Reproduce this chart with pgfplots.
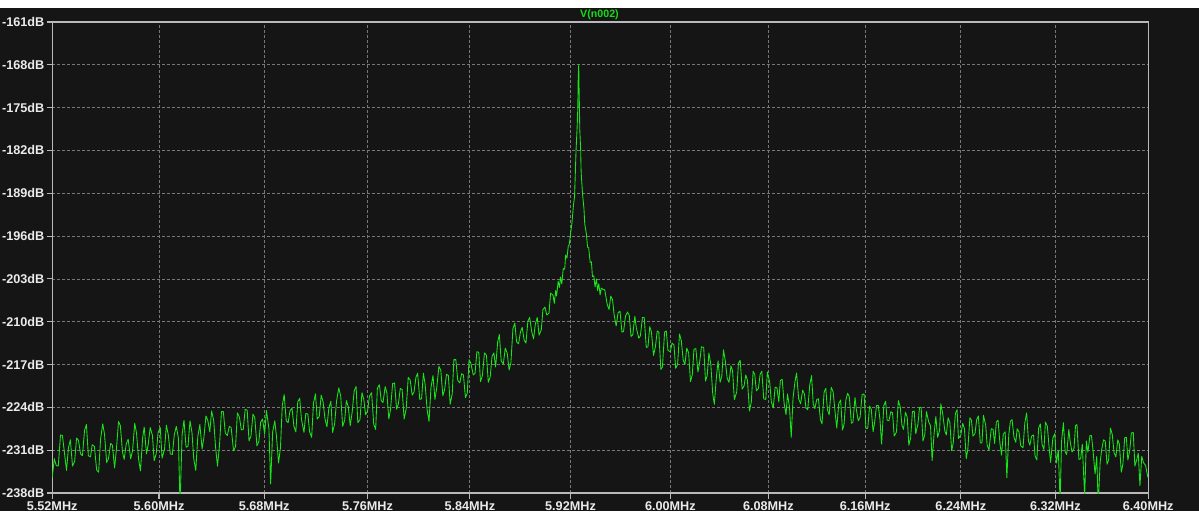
\documentclass[border=0pt]{standalone}
\usepackage{pgfplots}
\pgfplotsset{compat=1.18}
\usepackage{fontspec}
\setmainfont{Liberation Sans}
\definecolor{bg}{RGB}{21,21,21}
\definecolor{gridc}{RGB}{120,120,120}
\definecolor{framec}{RGB}{185,185,185}
\definecolor{labc}{RGB}{235,235,235}
\definecolor{trace}{RGB}{25,230,25}
\definecolor{titlec}{RGB}{20,220,20}
\pgfplotstableread[row sep=\\]{
x y\\
5.520 -235.5\\ 5.5215 -232.4\\ 5.523 -233.5\\ 5.5245 -233.6\\ 5.526 -228.5\\ 5.5275 -228.6\\ 5.529 -231.5\\ 5.5305 -234.3\\
5.532 -230.6\\ 5.5335 -229.3\\ 5.535 -233.6\\ 5.5365 -232.8\\ 5.538 -229.0\\ 5.5395 -229.4\\ 5.541 -231.6\\ 5.5425 -231.9\\
5.544 -227.8\\ 5.5455 -226.8\\ 5.547 -231.9\\ 5.5485 -232.1\\ 5.550 -230.1\\ 5.5515 -230.4\\ 5.553 -234.2\\ 5.5545 -234.6\\
5.556 -229.2\\ 5.5575 -226.7\\ 5.559 -228.4\\ 5.5605 -233.0\\ 5.562 -232.4\\ 5.5635 -229.9\\ 5.565 -230.2\\ 5.5665 -233.9\\
5.568 -231.1\\ 5.5695 -226.3\\ 5.571 -227.0\\ 5.5725 -231.3\\ 5.574 -232.5\\ 5.5755 -230.0\\ 5.577 -229.2\\ 5.5785 -232.4\\
5.580 -231.1\\ 5.5815 -226.6\\ 5.583 -228.2\\ 5.5845 -232.4\\ 5.586 -234.4\\ 5.5875 -229.0\\ 5.589 -227.2\\ 5.5905 -231.6\\
5.592 -230.1\\ 5.5935 -227.3\\ 5.595 -228.6\\ 5.5965 -232.7\\ 5.598 -231.6\\ 5.5995 -228.1\\ 5.601 -227.3\\ 5.6025 -232.3\\
5.604 -230.8\\ 5.6055 -226.9\\ 5.607 -228.5\\ 5.6085 -231.6\\ 5.610 -231.7\\ 5.6115 -228.5\\ 5.613 -227.1\\ 5.6145 -229.0\\
5.616 -240.0\\ 5.6175 -228.5\\ 5.619 -226.1\\ 5.6205 -230.5\\ 5.622 -230.4\\ 5.6235 -226.2\\ 5.625 -228.2\\ 5.6265 -232.4\\
5.628 -234.3\\ 5.6295 -228.8\\ 5.631 -226.8\\ 5.6325 -230.8\\ 5.634 -228.9\\ 5.6355 -225.4\\ 5.637 -226.1\\ 5.6385 -228.0\\
5.640 -224.6\\ 5.6415 -226.2\\ 5.643 -230.5\\ 5.6445 -233.6\\ 5.646 -230.2\\ 5.6475 -224.7\\ 5.649 -224.7\\ 5.6505 -228.2\\
5.652 -228.6\\ 5.6535 -227.1\\ 5.655 -227.3\\ 5.6565 -231.1\\ 5.658 -230.4\\ 5.6595 -224.9\\ 5.661 -225.6\\ 5.6625 -227.7\\
5.664 -227.6\\ 5.6655 -224.3\\ 5.667 -224.5\\ 5.6685 -229.5\\ 5.670 -228.7\\ 5.6715 -225.1\\ 5.673 -225.7\\ 5.6745 -230.3\\
5.676 -229.6\\ 5.6775 -226.4\\ 5.679 -225.9\\ 5.6805 -228.4\\ 5.682 -224.5\\ 5.6835 -227.5\\ 5.685 -236.5\\ 5.6865 -228.0\\
5.688 -226.2\\ 5.6895 -228.8\\ 5.691 -233.1\\ 5.6925 -230.6\\ 5.694 -223.7\\ 5.6955 -221.9\\ 5.697 -226.2\\ 5.6985 -226.5\\
5.700 -224.6\\ 5.7015 -224.1\\ 5.703 -227.1\\ 5.7045 -228.0\\ 5.706 -223.1\\ 5.7075 -222.5\\ 5.709 -226.0\\ 5.7105 -228.1\\
5.712 -225.0\\ 5.7135 -225.1\\ 5.715 -228.0\\ 5.7165 -228.9\\ 5.718 -223.3\\ 5.7195 -221.8\\ 5.721 -225.9\\ 5.7225 -225.5\\
5.724 -222.0\\ 5.7255 -223.1\\ 5.727 -225.9\\ 5.7285 -227.2\\ 5.730 -224.1\\ 5.7315 -223.0\\ 5.733 -228.1\\ 5.7345 -226.7\\
5.736 -223.0\\ 5.7375 -220.8\\ 5.739 -222.2\\ 5.7405 -227.1\\ 5.742 -226.1\\ 5.7435 -222.9\\ 5.745 -223.9\\ 5.7465 -227.0\\
5.748 -224.8\\ 5.7495 -221.3\\ 5.751 -220.6\\ 5.7525 -226.5\\ 5.754 -226.0\\ 5.7555 -221.6\\ 5.757 -222.7\\ 5.7585 -225.2\\
5.760 -224.6\\ 5.7615 -222.2\\ 5.763 -221.6\\ 5.7645 -226.8\\ 5.766 -227.6\\ 5.7675 -220.9\\ 5.769 -220.3\\ 5.7705 -222.9\\
5.772 -223.2\\ 5.7735 -220.6\\ 5.775 -221.6\\ 5.7765 -225.9\\ 5.778 -224.4\\ 5.7795 -220.1\\ 5.781 -220.0\\ 5.7825 -224.3\\
5.784 -223.4\\ 5.7855 -220.9\\ 5.787 -221.1\\ 5.7885 -225.9\\ 5.790 -224.2\\ 5.7915 -219.1\\ 5.793 -219.5\\ 5.7945 -222.0\\
5.796 -221.5\\ 5.7975 -219.1\\ 5.799 -218.4\\ 5.8005 -222.7\\ 5.802 -222.6\\ 5.8035 -218.4\\ 5.805 -220.3\\ 5.8065 -224.4\\
5.808 -226.3\\ 5.8095 -220.8\\ 5.811 -218.8\\ 5.8125 -222.7\\ 5.814 -220.8\\ 5.8155 -217.3\\ 5.817 -217.9\\ 5.8185 -222.1\\
5.820 -221.1\\ 5.8215 -218.6\\ 5.823 -218.8\\ 5.8245 -223.5\\ 5.826 -221.8\\ 5.8275 -216.2\\ 5.829 -216.2\\ 5.8305 -219.6\\
5.832 -220.0\\ 5.8335 -218.5\\ 5.835 -218.7\\ 5.8365 -222.4\\ 5.838 -221.7\\ 5.8395 -216.2\\ 5.841 -216.8\\ 5.8425 -218.7\\
5.844 -218.4\\ 5.8455 -214.9\\ 5.847 -215.0\\ 5.8485 -219.8\\ 5.850 -218.8\\ 5.8515 -215.1\\ 5.853 -215.5\\ 5.8545 -219.9\\
5.856 -219.0\\ 5.8575 -215.7\\ 5.859 -215.1\\ 5.8605 -217.4\\ 5.862 -213.3\\ 5.8635 -212.1\\ 5.865 -216.4\\ 5.8665 -216.9\\
5.868 -214.3\\ 5.8695 -215.2\\ 5.871 -217.9\\ 5.8725 -216.7\\ 5.874 -211.1\\ 5.8755 -210.2\\ 5.877 -213.3\\ 5.8785 -213.6\\
5.880 -211.7\\ 5.8815 -210.9\\ 5.883 -213.0\\ 5.8845 -213.5\\ 5.886 -209.9\\ 5.8875 -209.3\\ 5.889 -211.5\\ 5.8905 -212.8\\
5.892 -210.4\\ 5.8935 -209.3\\ 5.895 -212.2\\ 5.8965 -211.3\\ 5.898 -208.0\\ 5.8995 -207.6\\ 5.901 -208.9\\ 5.9025 -208.6\\
5.904 -205.3\\
5.906 -205.7\\ 5.907 -207.0\\ 5.908 -204.9\\ 5.909 -205.8\\ 5.910 -203.4\\ 5.911 -204.4\\ 5.912 -202.7\\ 5.913 -203.8\\
5.914 -201.3\\ 5.915 -201.4\\ 5.916 -199.1\\ 5.917 -199.6\\ 5.918 -197.5\\ 5.919 -197.5\\ 5.920 -195.7\\ 5.921 -194.0\\
5.922 -191.0\\ 5.923 -189.5\\ 5.9238 -185.5\\ 5.9246 -182.0\\ 5.9252 -178.5\\ 5.9258 -175.0\\ 5.9261 -171.0\\ 5.9263 -167.9\\
5.9266 -170.0\\ 5.9270 -175.0\\ 5.9274 -178.5\\ 5.9278 -182.0\\ 5.9286 -185.5\\ 5.9294 -189.0\\ 5.9305 -191.5\\ 5.9315 -194.0\\
5.9325 -195.6\\ 5.9335 -197.8\\ 5.9345 -197.9\\ 5.9355 -200.3\\ 5.9365 -200.2\\ 5.9375 -202.6\\ 5.9385 -202.5\\ 5.9395 -204.3\\
5.9405 -203.0\\ 5.9415 -204.9\\ 5.9425 -203.8\\ 5.9435 -205.6\\ 5.9445 -204.5\\
5.946 -204.7\\ 5.9475 -204.8\\ 5.949 -207.2\\ 5.9505 -208.0\\ 5.952 -205.8\\ 5.9535 -206.4\\ 5.955 -208.9\\ 5.9565 -210.7\\
5.958 -208.5\\ 5.9595 -208.3\\ 5.961 -211.7\\ 5.9625 -211.6\\ 5.964 -209.1\\ 5.9655 -208.4\\ 5.967 -209.0\\ 5.9685 -212.4\\
5.970 -212.1\\ 5.9715 -209.1\\ 5.973 -211.0\\ 5.9745 -212.7\\ 5.976 -212.3\\ 5.9775 -209.3\\ 5.979 -209.3\\ 5.9805 -214.2\\
5.982 -214.1\\ 5.9835 -210.8\\ 5.985 -211.7\\ 5.9865 -215.5\\ 5.988 -214.1\\ 5.9895 -211.5\\ 5.991 -211.7\\ 5.9925 -217.8\\
5.994 -217.4\\ 5.9955 -211.7\\ 5.997 -211.5\\ 5.9985 -214.7\\ 6.000 -214.9\\ 6.0015 -213.5\\ 6.003 -213.8\\ 6.0045 -217.6\\
6.006 -217.0\\ 6.0075 -212.0\\ 6.009 -213.1\\ 6.0105 -216.2\\ 6.012 -217.0\\ 6.0135 -214.3\\ 6.015 -215.1\\ 6.0165 -219.8\\
6.018 -218.7\\ 6.0195 -214.5\\ 6.021 -214.4\\ 6.0225 -218.2\\ 6.024 -216.8\\ 6.0255 -214.1\\ 6.027 -214.2\\ 6.0285 -219.7\\
6.030 -218.8\\ 6.0315 -215.1\\ 6.033 -217.0\\ 6.0345 -221.8\\ 6.036 -223.5\\ 6.0375 -219.1\\ 6.039 -216.4\\ 6.0405 -219.9\\
6.042 -218.9\\ 6.0435 -214.6\\ 6.045 -216.4\\ 6.0465 -219.3\\ 6.048 -219.9\\ 6.0495 -217.2\\ 6.051 -218.0\\ 6.0525 -222.7\\
6.054 -221.5\\ 6.0555 -216.8\\ 6.057 -216.3\\ 6.0585 -221.0\\ 6.060 -220.5\\ 6.0615 -218.7\\ 6.063 -219.6\\ 6.0645 -224.6\\
6.066 -223.1\\ 6.0675 -218.1\\ 6.069 -218.6\\ 6.0705 -221.3\\ 6.072 -220.9\\ 6.0735 -218.6\\ 6.075 -218.1\\ 6.0765 -222.6\\
6.078 -222.7\\ 6.0795 -218.2\\ 6.081 -219.9\\ 6.0825 -223.1\\ 6.084 -224.1\\ 6.0855 -220.7\\ 6.087 -220.8\\ 6.0885 -223.1\\
6.090 -219.6\\ 6.0915 -219.4\\ 6.093 -223.3\\ 6.0945 -225.2\\ 6.096 -221.8\\ 6.0975 -224.0\\ 6.099 -228.9\\ 6.1005 -222.5\\
6.102 -219.8\\ 6.1035 -218.4\\ 6.105 -222.6\\ 6.1065 -223.4\\ 6.108 -221.2\\ 6.1095 -221.8\\ 6.111 -224.1\\ 6.1125 -224.4\\
6.114 -220.3\\ 6.1155 -218.8\\ 6.117 -223.5\\ 6.1185 -224.2\\ 6.120 -222.7\\ 6.1215 -222.6\\ 6.123 -226.0\\ 6.1245 -226.7\\
6.126 -221.5\\ 6.1275 -220.9\\ 6.129 -224.4\\ 6.1305 -225.2\\ 6.132 -220.7\\ 6.1335 -221.5\\ 6.135 -225.0\\ 6.1365 -227.4\\
6.138 -223.4\\ 6.1395 -222.8\\ 6.141 -227.7\\ 6.1425 -226.8\\ 6.144 -222.8\\ 6.1455 -221.7\\ 6.147 -222.3\\ 6.1485 -226.6\\
6.150 -226.4\\ 6.1515 -222.4\\ 6.153 -224.5\\ 6.1545 -226.2\\ 6.156 -225.6\\ 6.1575 -221.9\\ 6.159 -221.8\\ 6.1605 -227.5\\
6.162 -227.4\\ 6.1635 -223.8\\ 6.165 -224.3\\ 6.1665 -228.0\\ 6.168 -226.4\\ 6.1695 -223.7\\ 6.171 -223.7\\ 6.1725 -226.0\\
6.174 -230.0\\ 6.1755 -223.7\\ 6.177 -223.0\\ 6.1785 -226.1\\ 6.180 -226.2\\ 6.1815 -224.7\\ 6.183 -224.9\\ 6.1845 -228.7\\
6.186 -228.0\\ 6.1875 -222.9\\ 6.189 -223.9\\ 6.1905 -226.9\\ 6.192 -227.6\\ 6.1935 -224.8\\ 6.195 -225.6\\ 6.1965 -230.2\\
6.198 -229.0\\ 6.1995 -224.7\\ 6.201 -224.6\\ 6.2025 -228.3\\ 6.204 -226.8\\ 6.2055 -224.0\\ 6.207 -224.0\\ 6.2085 -229.5\\
6.210 -228.5\\ 6.2115 -224.7\\ 6.213 -226.4\\ 6.2145 -227.0\\ 6.216 -232.7\\ 6.2175 -228.2\\ 6.219 -225.5\\ 6.2205 -228.9\\
6.222 -227.8\\ 6.2235 -223.4\\ 6.225 -225.1\\ 6.2265 -227.9\\ 6.228 -228.5\\ 6.2295 -225.7\\ 6.231 -226.5\\ 6.2325 -231.1\\
6.234 -229.8\\ 6.2355 -225.0\\ 6.237 -224.4\\ 6.2385 -229.1\\ 6.240 -228.5\\ 6.2415 -226.6\\ 6.243 -227.5\\ 6.2445 -232.4\\
6.246 -230.8\\ 6.2475 -225.7\\ 6.249 -226.1\\ 6.2505 -228.7\\ 6.252 -228.3\\ 6.2535 -226.0\\ 6.255 -225.4\\ 6.2565 -229.8\\
6.258 -229.8\\ 6.2595 -225.3\\ 6.261 -226.9\\ 6.2625 -230.1\\ 6.264 -231.0\\ 6.2655 -227.5\\ 6.267 -227.6\\ 6.2685 -229.9\\
6.270 -226.4\\ 6.2715 -226.1\\ 6.273 -229.9\\ 6.2745 -231.8\\ 6.276 -228.4\\ 6.2775 -228.0\\ 6.279 -235.5\\ 6.2805 -228.5\\
6.282 -226.3\\ 6.2835 -226.0\\ 6.285 -228.9\\ 6.2865 -229.7\\ 6.288 -227.5\\ 6.2895 -228.0\\ 6.291 -230.3\\ 6.2925 -230.6\\
6.294 -226.5\\ 6.2955 -224.9\\ 6.297 -229.5\\ 6.2985 -230.2\\ 6.300 -228.7\\ 6.3015 -228.5\\ 6.303 -231.9\\ 6.3045 -232.6\\
6.306 -227.4\\ 6.3075 -226.7\\ 6.309 -230.1\\ 6.3105 -230.9\\ 6.312 -226.4\\ 6.3135 -227.1\\ 6.315 -230.6\\ 6.3165 -233.0\\
6.318 -229.0\\ 6.3195 -228.3\\ 6.321 -233.1\\ 6.3225 -231.0\\ 6.324 -239.5\\ 6.3255 -229.5\\ 6.327 -226.5\\ 6.3285 -231.3\\
6.330 -231.7\\ 6.3315 -227.6\\ 6.333 -229.6\\ 6.3345 -231.3\\ 6.336 -230.7\\ 6.3375 -227.0\\ 6.339 -226.8\\ 6.3405 -232.5\\
6.342 -232.4\\ 6.3435 -230.0\\ 6.345 -238.5\\ 6.3465 -229.5\\ 6.348 -231.3\\ 6.3495 -228.6\\ 6.351 -228.6\\ 6.3525 -231.0\\
6.354 -234.9\\ 6.3555 -232.0\\ 6.357 -240.0\\ 6.3585 -233.0\\ 6.360 -230.9\\ 6.3615 -229.3\\ 6.363 -229.5\\ 6.3645 -233.3\\
6.366 -232.6\\ 6.3675 -227.4\\ 6.369 -228.4\\ 6.3705 -231.4\\ 6.372 -232.1\\ 6.3735 -229.3\\ 6.375 -230.0\\ 6.3765 -234.6\\
6.378 -233.3\\ 6.3795 -229.0\\ 6.381 -228.9\\ 6.3825 -232.6\\ 6.384 -231.0\\ 6.3855 -228.2\\ 6.387 -228.1\\ 6.3885 -233.6\\
6.390 -232.6\\ 6.3915 -231.5\\ 6.393 -236.8\\ 6.3945 -232.0\\ 6.396 -233.0\\ 6.3975 -233.5\\ 6.399 -235.0\\ 6.400 -235.5\\
}\spectrum
\begin{document}
\begin{tikzpicture}[x=0.75pt,y=-0.75pt]
\fill[white] (0,0) rectangle (1199,8);
\fill[bg] (0,8) rectangle (1199,511);
\node[font=\bfseries\fontsize{8}{9}\selectfont, text=titlec] at (599.5,15) {V(n002)};
\begin{axis}[
  at={(39pt,-369.75pt)}, anchor=south west,
  width=822pt, height=353.25pt, scale only axis,
  xmode=log, xmin=5.52, xmax=6.40, ymin=-238, ymax=-161,
  xtick={5.52,5.60,5.68,5.76,5.84,5.92,6.00,6.08,6.16,6.24,6.32,6.40},
  xticklabels={5.52MHz,5.60MHz,5.68MHz,5.76MHz,5.84MHz,5.92MHz,6.00MHz,6.08MHz,6.16MHz,6.24MHz,6.32MHz,6.40MHz},
  minor xtick={}, minor ytick={},
  ytick={-238,-231,-224,-217,-210,-203,-196,-189,-182,-175,-168,-161},
  yticklabels={-238dB,-231dB,-224dB,-217dB,-210dB,-203dB,-196dB,-189dB,-182dB,-175dB,-168dB,-161dB},
  grid=major,
  major grid style={dash pattern=on 2.25pt off 1.5pt, color=gridc, line width=0.6pt},
  axis line style={framec, line width=0.9pt},
  tick style={framec, line width=0.8pt},
  tick align=outside, major tick length=4.5pt,
  xtick pos=bottom, ytick pos=left,
  ticklabel style={font=\bfseries\fontsize{9.5}{11}\selectfont, text=labc},
  xticklabel style={inner sep=1.5pt},
  yticklabel style={inner sep=1.5pt},
  axis background/.style={fill=bg},
]
\addplot[trace, line width=0.65pt, line join=round] table[x=x,y=y] {\spectrum};
\end{axis}
\pgfresetboundingbox
\path[use as bounding box] (0,0) rectangle (1199,511);
\end{tikzpicture}
\end{document}
